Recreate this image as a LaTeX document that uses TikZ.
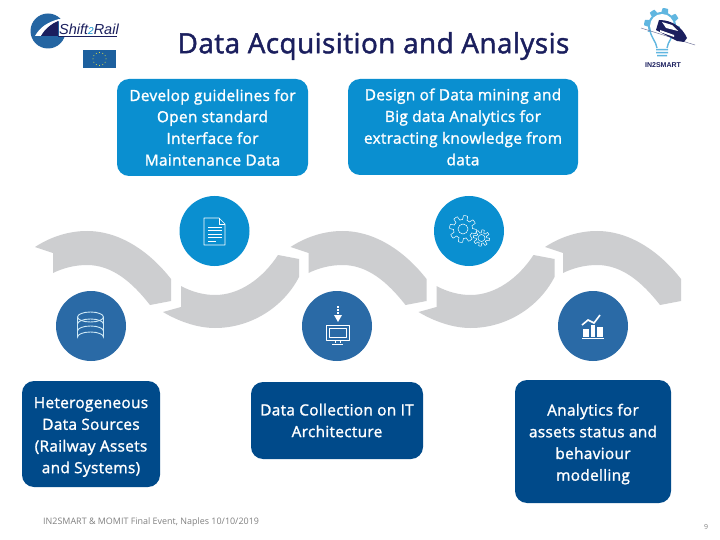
\documentclass[tikz,border=0pt]{standalone}
\usepackage{fontspec}
\setmainfont{Open Sans}
\newfontfamily\semifont[FakeBold=1.4,LetterSpace=2]{Open Sans}
\newfontfamily\titlefont[FakeBold=1.6,LetterSpace=1.5]{Open Sans}
\newfontfamily\logofont{Liberation Sans}
\definecolor{lightblue}{HTML}{0A8FD0}
\definecolor{midblue}{HTML}{2A6AA6}
\definecolor{navyblue}{HTML}{004A8A}
\definecolor{titlecol}{HTML}{1B1F5E}
\definecolor{greyarc}{HTML}{CDCED0}
\definecolor{footgrey}{HTML}{808080}
\tikzset{
  x=1pt,y=-1pt,
  textbox/.style={rounded corners=12pt,draw=none,align=center,text=white,inner sep=0pt,font=\semifont\fontsize{15.4}{21.7}\selectfont},
  lightbox/.style={textbox,fill=lightblue},
  darkbox/.style={textbox,fill=navyblue},
  iconcircle/.style={circle,draw=none,minimum size=70pt,inner sep=0pt},
  iconline/.style={draw=white,line width=0.7pt,line join=round},
  paleline/.style={draw=white!80!lightblue,line width=0.9pt}
}
\newcommand{\arcdown}{(35,247) .. controls (52,236) and (70,231) .. (87,231) .. controls (120,231) and (150,252) .. (171,279) -- (171,301) -- (150,305) .. controls (132,282) and (112,265) .. (87,265) .. controls (75,265) and (63,268) .. (53,273) -- (53,253) -- cycle}
\newcommand{\arcup}{(163,312) -- (181,307) -- (181,286) .. controls (192,292) and (204,295) .. (215,295) .. controls (240,295) and (263,278) .. (278,255) -- (299,259) -- (299,277) .. controls (283,308) and (250,328) .. (215,328) .. controls (197,328) and (178,321) .. (163,312) -- cycle}
\newcommand{\gearshape}[5]{plot[samples=#5,domain=0:360] ({#1+(#3+#4*max(min(3*sin(8*\x),1),-1))*cos(\x)},{#2+(#3+#4*max(min(3*sin(8*\x),1),-1))*sin(\x)}) -- cycle}
\begin{document}
\begin{tikzpicture}
\useasboundingbox[fill=white] (0,0) rectangle (720,540);

% title
\node[text=titlecol,font=\titlefont\fontsize{27.9}{30}\selectfont,inner sep=0pt] (title) at (373.5,46) {Data Acquisition and Analysis};

% grey arrows
\fill[greyarc] \arcdown;
\fill[greyarc] \arcup;
\begin{scope}[xshift=255.5pt]
  \fill[greyarc] \arcdown;
  \fill[greyarc] \arcup;
\end{scope}
\begin{scope}[xshift=510pt]
  \fill[greyarc] \arcdown;
\end{scope}

% text boxes
\node[lightbox,minimum width=191pt,minimum height=97pt] (guidelines) at (212.5,127.5) {\raisebox{-0.5pt}{Develop guidelines for}\\Open standard\\Interface for\\Maintenance Data};
\node[lightbox,minimum width=230pt,minimum height=96pt] (mining) at (463,127) {Design of Data mining and\\Big data Analytics for\\extracting knowledge from\\data};
\node[darkbox,minimum width=138pt,minimum height=106pt] (sources) at (91,434) {\rule{0pt}{17pt}Heterogeneous\\Data Sources\\(Railway Assets\\and Systems)};
\node[darkbox,minimum width=172pt,minimum height=77pt] (collection) at (337,420.5) {Data Collection on IT\\Architecture};
\node[darkbox,minimum width=156pt,minimum height=123pt] (analytics) at (593,441.5) {\rule{0pt}{17pt}Analytics for\\assets status and\\behaviour\\modelling};

% icon circles
\node[iconcircle,fill=midblue] (c1) at (91,326) {};
\node[iconcircle,fill=lightblue] (c2) at (214.5,231) {};
\node[iconcircle,fill=midblue] (c3) at (337,326) {};
\node[iconcircle,fill=lightblue] (c4) at (469,231) {};
\node[iconcircle,fill=midblue] (c5) at (593,326) {};

% database icon
\begin{scope}[paleline]
  \draw (77.5,317) -- (77.5,337) arc[start angle=180,end angle=360,x radius=13,y radius=5] -- (103.5,317);
  \draw (90.5,317) ellipse[x radius=13,y radius=5];
  \draw (77.5,324) arc[start angle=180,end angle=360,x radius=13,y radius=5];
  \draw (77.5,331) arc[start angle=180,end angle=360,x radius=13,y radius=5];
\end{scope}

% document icon
\begin{scope}[iconline]
  \draw (204,218) -- (219,218) -- (225,224) -- (225,245) -- (204,245) -- cycle;
  \draw (219,218) -- (219,224) -- (225,224);
  \draw (208,227) -- (222,227);
  \draw (208,230.5) -- (222,230.5);
  \draw (208,234) -- (222,234);
  \draw (208,237.5) -- (222,237.5);
  \draw (208,241) -- (216,241);
\end{scope}

% monitor icon
\begin{scope}[iconline]
  \draw (326,325) rectangle (349,340);
  \draw (329,328) rectangle (346,337);
  \draw (335,340) -- (335,343) (340,340) -- (340,343);
  \draw (332,344) -- (343,344);
  \draw[line width=1.2pt,dash pattern=on 1.5pt off 1.5pt] (338,306) -- (338,315);
  \fill[white] (334,315) -- (342,315) -- (338,322) -- cycle;
\end{scope}

% gear icon
\draw[draw=white,line width=0.5pt] \gearshape{463}{229}{11.5}{2}{145};
\draw[draw=white,line width=0.5pt] (463,229) circle[radius=5];
\draw[draw=white,line width=0.5pt] \gearshape{481.5}{238}{6.7}{1.5}{145};
\draw[draw=white,line width=0.5pt] (481.5,238) circle[radius=3.5];

% chart icon
\fill[white] (582,338) rectangle (604,339);
\fill[white] (583,329) rectangle (589,337);
\fill[white] (591,325) rectangle (595,337);
\fill[white] (597,327) rectangle (603,337);
\draw[white,line width=1.6pt] (582,325) -- (588,320) -- (594,323) -- (600,315);

% Shift2Rail logo
\fill[midblue!85!navyblue] (48,31) circle[radius=17.5];
\fill[white] (35,36) .. controls (40,27) and (48,22) .. (59,19) -- (59,21) .. controls (51,24) and (45,29) .. (41,36) -- cycle;
\fill[titlecol] (41,36) .. controls (45,29) and (51,24) .. (58,21) -- (58,36) -- cycle;
\fill[white] (59,19) rectangle (66,36);
\draw[titlecol,line width=0.6pt] (58,36) -- (117,36);
\node[text=titlecol,font=\logofont\itshape\fontsize{14.5}{15}\selectfont,inner sep=0pt,anchor=west] (s2r) at (59,29) {Shift\textcolor{lightblue}{\fontsize{10}{11}\selectfont 2}Rail};

% EU flag
\fill[midblue!70!navyblue] (83,50) rectangle (116,68.5);
\foreach \a in {0,30,...,330}
  \fill[yellow!80!white] ({99.5+6.5*cos(\a)},{59+6.5*sin(\a)}) circle[radius=0.5];

% IN2SMART logo
\fill[lightblue!65!white] \gearshape{662}{26}{16}{2}{145};
\fill[white] (662,26) circle[radius=12];
\fill[white] (645,32) rectangle (680,48);
\draw[lightblue!65!white,line width=1.4pt] (650,30) .. controls (651,38) and (656,41) .. (657,48);
\draw[lightblue!65!white,line width=1.4pt] (674,30) .. controls (673,38) and (668,41) .. (667,48);
\fill[lightblue!65!white] (656,49) rectangle (668,50.5) (656,52) rectangle (668,53.5) (657,55) rectangle (667,56.5);
\draw[titlecol!60!white,line width=0.5pt] (641,28) -- (695,45);
\fill[titlecol] (659,20) .. controls (672,20) and (682,27) .. (687,38) -- (684,42) -- (677,41) -- (656,30) -- cycle;
\fill[white] (662,22) -- (672,25) -- (678,31) -- (666,28) -- cycle;
\fill[white] (660,30) -- (674,35) -- (674,37) -- (660,32) -- cycle;
\node[text=titlecol,font=\logofont\bfseries\fontsize{7}{8}\selectfont,inner sep=0pt] (in2) at (663,65) {IN2SMART};

% footer
\node[text=footgrey,font=\fontsize{8.95}{10}\selectfont,inner sep=0pt,anchor=west] (footer) at (43,522) {IN2SMART \& MOMIT Final Event,  Naples 10/10/2019};
\node[text=footgrey,font=\fontsize{7}{9}\selectfont,inner sep=0pt] (page) at (706,527) {9};
\end{tikzpicture}
\end{document}
